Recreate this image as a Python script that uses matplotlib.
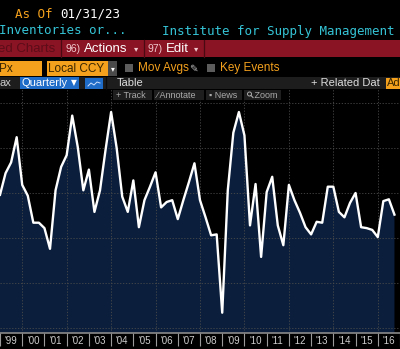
import numpy as np
import pandas as pd
import matplotlib
matplotlib.use("Agg")
import matplotlib.pyplot as plt
from matplotlib.patches import Rectangle, Circle

# Quarterly values (quarter-end)
quarters = pd.period_range("1998Q4", "2016Q3", freq="Q")
values = [49.8, 52.2, 53.4, 56.2, 50.9, 49.7, 46.7, 46.7, 46.1, 43.8,
          50.3, 52.9, 54.2, 58.6, 55.1, 50.3, 52.6, 47.9, 50.3, 54.8,
          59.0, 55.0, 49.6, 47.9, 51.4, 46.2, 49.2, 50.7, 52.3, 48.4,
          49.0, 49.2, 47.1, 49.2, 51.2, 53.3, 49.2, 47.3, 45.3, 45.4,
          36.7, 50.3, 56.7, 59.0, 56.4, 46.4, 51.0, 42.9, 50.1, 51.8,
          46.4, 44.2, 50.9, 49.2, 47.8, 46.2, 45.4, 46.8, 46.7, 50.7,
          50.7, 47.9, 47.3, 48.9, 50.0, 46.2, 46.1, 45.9, 45.1, 49.1,
          49.3, 47.6]
year_labels = ["'99", "'00", "'01", "'02", "'03", "'04", "'05", "'06", "'07",
               "'08", "'09", "'10", "'11", "'12", "'13", "'14", "'15", "'16"]
first_year = 1999

# quarter-end as decimal year
t = np.array([q.year + q.quarter / 4 for q in quarters])
v = np.array(values)

W, H = 400, 349
fig = plt.figure(figsize=(4, 3.49), dpi=100, facecolor="black")
sans = "Liberation Sans"

# ---- chart area ----
ax_top, ax_bot = 88, 333
ax = fig.add_axes([0, (H - ax_bot) / H, 1, (ax_bot - ax_top) / H])
ax.set_facecolor("black")
px_per_year = 22.6
x_left = 2009 - 225 / px_per_year
ax.set_xlim(x_left, x_left + W / px_per_year)
ax.set_ylim(50 - (ax_bot - 193) / 9, 50 + (193 - ax_top) / 9)

ax.fill_between(t, v, 20, color="#0b1f3d", lw=0, zorder=1)
ax.plot(t, v, color="white", lw=1.7, zorder=3, solid_joinstyle="round")

grid_kw = dict(color="#4a4a4a", lw=0.6, ls=(0, (1.5, 2)), zorder=2)
for yv in range(35, 61, 5):
    ax.axhline(yv, **grid_kw)
for yr in range(2000, 2018, 2):
    ax.axvline(yr, **grid_kw)

# year separators and labels along the bottom
n_years = len(year_labels)
ax.set_xticks(np.arange(first_year, first_year + n_years + 1))
ax.set_xticklabels([])
ax.set_xticks(np.arange(first_year, first_year + n_years) + 0.5, minor=True)
ax.set_xticklabels(year_labels, minor=True, family=sans)
ax.tick_params(axis="x", which="major", length=9, width=0.8, color="#9a9a9a",
               direction="out")
ax.tick_params(axis="x", which="minor", length=0, pad=2, labelsize=7,
               labelcolor="#cfcfcf")
ax.set_yticks([])
for s in ["top", "left", "right"]:
    ax.spines[s].set_visible(False)
ax.spines["bottom"].set_color("#8a8a8a")
ax.spines["bottom"].set_linewidth(1.2)

# ---- terminal header (pixel coordinates) ----
hd = fig.add_axes([0, 0, 1, 1], facecolor="none")
hd.set_xlim(0, W)
hd.set_ylim(H, 0)
hd.axis("off")


def box(x0, y0, x1, y1, c, ec="none"):
    hd.add_patch(Rectangle((x0, y0), x1 - x0, y1 - y0, fc=c, ec=ec, lw=0.8))


def txt(x, y, s, c, size=9, family=sans, **kw):
    hd.text(x, y, s, color=c, fontsize=size, family=family, va="center",
            ha=kw.pop("ha", "left"), **kw)


box(0, 0, W, 88, "black")
mono = "DejaVu Sans Mono"
orange = "#f4a11d"
cyan = "#35c4d6"
txt(15, 14, "As Of", orange, 9, mono)
txt(60, 14, "01/31/23", "white", 9, mono)
txt(-1, 31, "Inventories or...", cyan, 9, mono)
txt(162, 31, "Institute for Supply Management", cyan, 9, mono)

# red action bar
box(0, 40, W, 57, "#8a1324")
for xs in [61, 144, 204]:
    hd.plot([xs, xs], [40, 57], color="#4a0a12", lw=0.9)
txt(-2, 48.5, "ed Charts", "#5c0d18", 9.5)
txt(66, 48.5, "96)", "#f0c8cc", 7.5)
txt(84, 48.5, "Actions", "white", 9.5)
txt(134, 49, "\u25be", "#f0c8cc", 6, "DejaVu Sans")
txt(148, 48.5, "97)", "#f0c8cc", 7.5)
txt(166, 48.5, "Edit", "white", 9.5)
txt(194, 49, "\u25be", "#f0c8cc", 6, "DejaVu Sans")

# options row
box(0, 61, 42, 76, orange)
txt(-1, 68.5, "Px", "#3a2600", 8.5)
box(47, 61, 108, 76, orange)
txt(48, 68.5, "Local CCY", "#3a2600", 8.5)
box(108, 61, 117, 76, "#4a4a4a")
txt(112.5, 69, "\u25be", "white", 5.5, "DejaVu Sans", ha="center")
box(125, 64, 133, 72, "#5c5c5c")
txt(138, 68.5, "Mov Avgs", orange, 8.5)
txt(189, 68.5, "\u270e", "#bbbbbb", 7.5, "DejaVu Sans")
box(207, 64, 215, 72, "#5c5c5c")
txt(220, 68.5, "Key Events", orange, 8.5)

# view row
box(0, 77, W, 89, "#1d1d1d")
txt(-1, 83, "ax", "#cccccc", 8)
box(20, 77, 79, 89, "#1f6cc8")
txt(22, 83, "Quarterly", "white", 8)
txt(70.5, 83, "\u25bc", "white", 5.5, "DejaVu Sans")
box(85, 78, 103, 89, "#1f6cc8")
hd.plot([88, 91, 94, 97, 100], [86, 83, 85, 82, 83], color="#cfe0ff", lw=0.7)
hd.plot([106, 106], [77, 89], color="#0a0a0a", lw=1)
txt(117, 83, "Table", "#dddddd", 8)
txt(311, 83, "+ Related Dat", "#dddddd", 8)
box(386, 78, 401, 89, orange)
txt(387, 83, "Ad", "#3a2600", 8)

# chart tool buttons
for x0, x1, label in [(113, 152, "+ Track"), (154, 204, "\u2215 Annotate"),
                      (206, 242, "\u25aa News"), (244, 281, "   Zoom")]:
    box(x0, 90, x1, 100, "#1e1e1e")
    txt(x0 + 3, 95, label, "#aaaaaa", 6.5, ["Liberation Sans", "DejaVu Sans"])
# magnifier icon for the Zoom button
hd.add_patch(Circle((249.5, 94), 2, fc="none", ec="#aaaaaa", lw=0.7))
hd.plot([251, 253], [95.5, 97.5], color="#aaaaaa", lw=0.8)

fig.savefig("out.png", dpi=100, facecolor="black")
